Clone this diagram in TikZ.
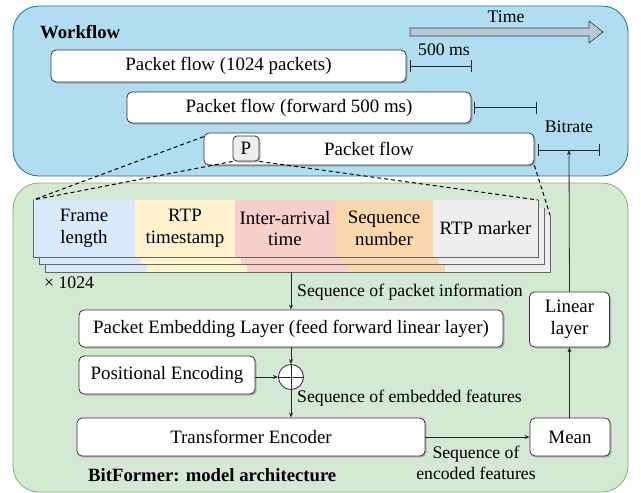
\documentclass[tikz,border=0pt]{standalone}
\usepackage{fontspec}
\setmainfont{Liberation Serif}
\usepackage{tikz}
\usetikzlibrary{arrows.meta,shadows}

\definecolor{wfblue}{HTML}{B1DDF0}
\definecolor{wfline}{HTML}{10739E}
\definecolor{archgreen}{HTML}{D5E8D4}
\definecolor{archline}{HTML}{82B366}
\definecolor{cellblue}{HTML}{DAE8FC}
\definecolor{cellyellow}{HTML}{FFF2CC}
\definecolor{cellred}{HTML}{F8CECC}
\definecolor{cellorange}{HTML}{FAD7AC}
\definecolor{cellgray}{HTML}{EEEEEE}
\definecolor{timefill}{HTML}{BAC8D3}
\definecolor{timeline}{HTML}{23445D}

\begin{document}
\begin{tikzpicture}
            [every node/.style={inner sep=0pt},
             box/.style={rectangle, rounded corners=5pt, fill=white, draw=black!80, line width=0.8pt,
                         drop shadow={shadow xshift=1.5pt, shadow yshift=-1.5pt, fill=black!50},
                         font=\fontsize{18.9}{21.5}\selectfont, align=center},
             lbl/.style={font=\fontsize{17.7}{20.5}\selectfont, align=center},
             arr/.style={line width=0.8pt, black!85, -{Stealth[length=5pt, width=4pt]}},
             span/.style={line width=1pt, black!85, {Bar[width=12pt]}-{Bar[width=12pt]}},
             zoomline/.style={line width=1pt, dashed, dash pattern=on 4pt off 3pt},
             layeredge/.style={line width=0.8pt, black!60}]
                \useasboundingbox (0pt, 0pt) rectangle (641pt, -493pt);
                % containers
                \draw [rounded corners=26pt, fill=wfblue, draw=wfline, line width=0.8pt] (13pt, -6pt) rectangle (628pt, -176pt);
                \draw [rounded corners=26pt, fill=archgreen, draw=archline, line width=0.8pt] (13pt, -183pt) rectangle (628pt, -492pt);
                \node (wftitle) [anchor=west, font=\fontsize{18.7}{21}\selectfont\bfseries] at (40pt, -32pt) {Workflow};
                \node (archtitle) [anchor=west, font=\fontsize{18.7}{21}\selectfont\bfseries] at (88pt, -475pt) {BitFormer: model architecture};
                % time arrow
                \draw [fill=timefill, draw=timeline, line width=0.6pt] (410pt, -28pt) -- (589pt, -28pt) -- (589pt, -21pt) -- (603pt, -32pt) -- (589pt, -43pt) -- (589pt, -36pt) -- (410pt, -36pt) -- cycle;
                \node (time) [lbl] at (506pt, -17pt) {Time};
                % packet flows
                \node (flowA) [box, minimum width=355pt, minimum height=32pt] at (228.5pt, -66pt) {Packet flow (1024 packets)};
                \node (flowB) [box, minimum width=344pt, minimum height=31pt] at (299pt, -107.5pt) {Packet flow (forward 500 ms)};
                \node (flowC) [box, minimum width=330pt, minimum height=32pt] at (369pt, -149pt) {Packet flow};
                \node (pkt) [box, rounded corners=4pt, fill=cellgray, minimum width=26pt, minimum height=25pt] at (246pt, -148.5pt) {P};
                \coordinate (spanAl) at (410pt, -66pt);
                \coordinate (spanAr) at (472pt, -66pt);
                \coordinate (spanBl) at (474pt, -107.5pt);
                \coordinate (spanBr) at (537pt, -107.5pt);
                \coordinate (spanCl) at (538pt, -150pt);
                \coordinate (spanCr) at (600pt, -150pt);
                \coordinate (spanCm) at (569pt, -150pt);
                \draw [span] (spanAl) -- (spanAr);
                \draw [span] (spanBl) -- (spanBr);
                \draw [span] (spanCl) -- (spanCr);
                \node (halfsec) [lbl] at (444pt, -50pt) {500 ms};
                \node (bitrate) [lbl] at (569pt, -127pt) {Bitrate};
                % packet information (1024 stacked copies)
                \foreach \k in {2,1,0} {
                    \begin{scope}[xshift={\k*6pt}, yshift={-\k*7.5pt}]
                        \foreach \xa/\xb/\col in {33/135/cellblue, 135/235/cellyellow, 235/335/cellred, 335/433/cellorange, 433/538/cellgray}
                            \fill [\col] (\xa pt, -200pt) rectangle (\xb pt, -257pt);
                        \draw [layeredge] (33pt, -200pt) -- (33pt, -257pt) -- (538pt, -257pt) -- (538pt, -200pt);
                    \end{scope}
                }
                \node (frame) [lbl, font=\fontsize{18.9}{21.5}\selectfont] at (84pt, -228.5pt) {Frame\\length};
                \node (rtpts) [lbl, font=\fontsize{18.9}{21.5}\selectfont] at (185pt, -228.5pt) {RTP\\timestamp};
                \node (iat) [lbl, font=\fontsize{18.9}{21.5}\selectfont] at (285pt, -228.5pt) {Inter-arrival\\time};
                \node (seqno) [lbl, font=\fontsize{18.9}{21.5}\selectfont] at (384pt, -228.5pt) {Sequence\\number};
                \node (marker) [lbl, font=\fontsize{18.9}{21.5}\selectfont] at (485.5pt, -228.5pt) {RTP marker};
                \node (times) [lbl, anchor=west] at (44pt, -283pt) {× 1024};
                \coordinate (tabTL) at (33pt, -200pt);
                \coordinate (tabTR) at (538pt, -200pt);
                \coordinate (tabBackTR) at (550pt, -215pt);
                \coordinate (tabout) at (291pt, -272pt);
                % zoom lines
                \draw [zoomline] ([yshift=-4pt]flowC.north west) -- (tabTL);
                \draw [zoomline] (pkt.south west) -- (tabTL);
                \draw [zoomline] (pkt.south east) -- (tabTR);
                \draw [zoomline] (flowC.south east) -- (tabBackTR);
                % model
                \node (embed) [box, minimum width=424pt, minimum height=37pt] at (291pt, -328.5pt) {Packet Embedding Layer (feed forward linear layer)};
                \node (linear) [box, minimum width=80pt, minimum height=55pt] at (569.5pt, -319.5pt) {Linear\\layer};
                \node (plus) [circle, minimum size=25pt, fill=white, draw=black!85, line width=0.8pt] at (291pt, -377pt) {};
                \draw [line width=0.8pt, black!85] (plus.north) -- (plus.south) (plus.west) -- (plus.east);
                \node (posenc) [box, minimum width=176pt, minimum height=38pt] at (167pt, -375pt) {Positional Encoding};
                \node (trans) [box, minimum width=348pt, minimum height=38pt] at (251pt, -437pt) {Transformer Encoder};
                \node (mean) [box, minimum width=80pt, minimum height=38pt] at (570pt, -437pt) {Mean};
                \draw [arr] (tabout) -- (embed.north -| tabout);
                \draw [arr] (embed.south -| plus) -- (plus.north);
                \draw [arr] (posenc.east |- plus) -- (plus.west);
                \draw [arr] (plus.south) -- (plus |- trans.north);
                \draw [arr] (trans.east |- mean) -- (mean.west);
                \draw [arr] (mean.north -| linear) -- (linear.south);
                \draw [arr] (linear.north) -- (spanCm);
                \node (seqinfo) [lbl, anchor=west] at (297pt, -292pt) {Sequence of packet information};
                \node (seqemb) [lbl, anchor=west] at (297pt, -398pt) {Sequence of embedded features};
                \node (seqenc) [lbl] at (476pt, -463pt) {Sequence of\\encoded features};
            \end{tikzpicture}
\end{document}
